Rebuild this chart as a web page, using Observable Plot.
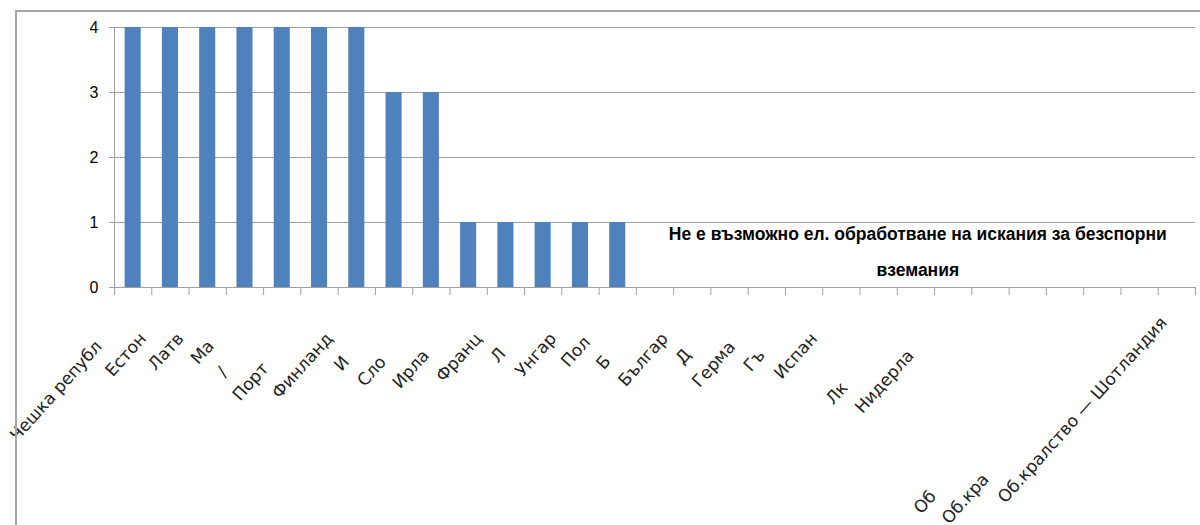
<!DOCTYPE html>
<html>
<head>
<meta charset="utf-8">
<script src="https://cdn.jsdelivr.net/npm/d3@7"></script>
<script src="https://cdn.jsdelivr.net/npm/@observablehq/plot@0.6"></script>
<style>
  html, body { margin: 0; padding: 0; background: #fff; width: 1200px; height: 525px; overflow: hidden; }
  #wrap { position: relative; width: 1200px; height: 525px; }
  #frame { position: absolute; left: 15px; top: 10px; width: 1200px; height: 530px;
           border-top: 2px solid #a6a6a6; border-left: 2px solid #a6a6a6; pointer-events: none; }
  #wrap svg { position: absolute; left: 0; top: 0; }
</style>
</head>
<body>
<div id="wrap"><div id="frame"></div></div>
<script>
// Categories (full names) in chart order
const categories = [
  "Чешка република", "Естония", "Латвия", "Малта", "Австрия", "Португалия", "Финландия",
  "Италия", "Словения", "Ирландия", "Франция", "Литва", "Унгария", "Полша",
  "Белгия", "България", "Дания", "Германия", "Гърция", "Испания", "Кипър",
  "Люксембург", "Нидерландия", "Румъния", "Словакия", "Швеция",
  "Об.кралство – Англия и Уелс", "Об.кралство — Сев. Ирландия", "Об.кралство — Шотландия"
];
// Values per category
const values = [4, 4, 4, 4, 4, 4, 4, 3, 3, 1, 1, 1, 1, 1,
                0, 0, 0, 0, 0, 0, 0, 0, 0, 0, 0, 0, 0, 0, 0];
// Visible (truncated) tick labels as they appear in the chart
const tickLabels = [
  "Чешка републ", "Естон", "Латв", "Ма", "/", "Порт", "Финланд",
  "И", "Сло", "Ирла", "Франц", "Л", "Унгар", "Пол",
  "Б", "Българ", "Д", "Герма", "Гъ", "Испан", "",
  "Лк", "Нидерла", "", "", "",
  "Об", "Об.кра", "Об.кралство — Шотландия"
];
const yTicks = [0, 1, 2, 3, 4];
const noteText = "Не е възможно ел. обработване на искания за безспорни\nвземания";
const noteX = 21.55;   // position in category-index units
const noteY = 0.63;    // position in value units

const data = categories.map((name, i) => ({ i, name, value: values[i], label: tickLabels[i] }));
const boundaries = d3.range(0, categories.length + 1);

const chart = Plot.plot({
  width: 1200,
  height: 525,
  marginLeft: 114,
  marginRight: 5,
  marginTop: 27,
  marginBottom: 238,
  style: { fontFamily: "'Liberation Sans', Arial, sans-serif", background: "transparent", overflow: "visible" },
  x: { type: "linear", domain: [0, categories.length], axis: null },
  y: { domain: [0, 4], axis: null },
  marks: [
    Plot.gridY(yTicks, { stroke: "#a0a0a0", strokeOpacity: 1, strokeWidth: 1 }),
    Plot.rectY(data, {
      x1: "i", x2: d => d.i + 1, y: "value",
      fill: "#4f81bd", insetLeft: 10.6, insetRight: 10.6
    }),
    Plot.axisY({
      ticks: yTicks, tickSize: 5, tickPadding: 11, fontSize: 16, label: null,
      stroke: "#a0a0a0", fill: "#000", tickFormat: d => String(d)
    }),
    Plot.ruleX([0], { stroke: "#a0a0a0", y1: 0, y2: 4 }),
    Plot.axisX({
      ticks: boundaries, tickSize: 8, tickFormat: () => "", label: null,
      stroke: "#a0a0a0", anchor: "bottom"
    }),
    Plot.text(data, {
      x: d => d.i + 0.5, frameAnchor: "bottom", dx: -9, dy: 36,
      text: "name", rotate: -48, textAnchor: "end",
      fontFamily: "'DejaVu Sans', sans-serif", fontSize: 17, fill: "#222"
    }),
    Plot.text([noteText], {
      x: () => noteX, y: () => noteY, text: d => d,
      fontWeight: "bold", fontSize: 17.5, lineHeight: 2.05,
      fontFamily: "'Liberation Sans', Arial, sans-serif", fill: "#000"
    })
  ]
});

document.getElementById("wrap").prepend(chart);

// Tick labels are drawn truncated: keep the end anchor of the full label,
// show only the visible start of each label.
const labelGroup = chart.querySelector('g[aria-label="text"]');
const labelNodes = labelGroup ? labelGroup.querySelectorAll("text") : [];
labelNodes.forEach((t, k) => {
  const full = t.getComputedTextLength();
  t.textContent = tickLabels[k];
  const frag = tickLabels[k] ? t.getComputedTextLength() : 0;
  t.setAttribute("x", -(full - frag));
});
</script>
</body>
</html>
